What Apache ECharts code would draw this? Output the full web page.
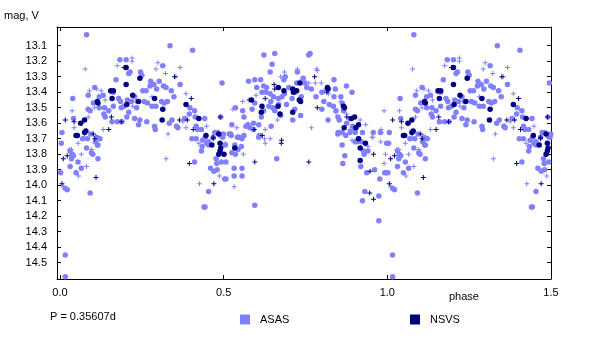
<!DOCTYPE html>
<html>
<head>
<meta charset="utf-8">
<script src="https://cdn.jsdelivr.net/npm/echarts@6/dist/echarts.min.js"></script>
<style>
html, body { margin: 0; padding: 0; background: #ffffff; }
#chart { width: 600px; height: 337px; }
</style>
</head>
<body>
<div id="chart"></div>
<script>
// Light curve, phase-folded: [phase, V magnitude]
const periodLabel = 'P = 0.35607d';
const xTicks = [0, 0.5, 1.0, 1.5];
const yTicks = [13.1, 13.2, 13.3, 13.4, 13.5, 13.6, 13.7, 13.8, 13.9, 14.0, 14.1, 14.2, 14.3, 14.4, 14.5];

// ASAS, good-quality measurements
const asasDots = [
  [0.081,13.03],[0.336,13.10],[0.405,13.13],[0.183,13.19],[0.202,13.19],[0.214,13.27],[0.21,13.28],[0.246,13.27],
  [0.25,13.29],[0.171,13.32],[0.314,13.23],[0.277,13.33],[0.287,13.35],[0.303,13.33],[0.316,13.36],[0.324,13.37],
  [0.295,13.38],[0.367,13.35],[0.34,13.39],[0.348,13.43],[0.106,13.37],[0.086,13.42],[0.163,13.40],[0.179,13.44],
  [0.185,13.46],[0.206,13.45],[0.218,13.46],[0.196,13.49],[0.187,13.50],[0.228,13.43],[0.236,13.46],[0.234,13.50],
  [0.253,13.39],[0.263,13.39],[0.275,13.36],[0.257,13.46],[0.267,13.47],[0.281,13.49],[0.293,13.49],[0.31,13.46],
  [0.318,13.47],[0.328,13.46],[0.039,13.44],[0.086,13.51],[0.092,13.52],[0.12,13.50],[0.136,13.50],[0.134,13.54],
  [0.138,13.56],[0.149,13.52],[0.163,13.49],[0.159,13.59],[0.175,13.59],[0.189,13.59],[0.204,13.56],[0.21,13.53],
  [0.228,13.57],[0.006,13.66],[0.069,13.70],[0.084,13.70],[0.094,13.67],[0.108,13.72],[0.114,13.74],[0.122,13.70],
  [0.004,13.73],[0.081,13.76],[0.24,13.61],[0.244,13.58],[0.265,13.59],[0.289,13.62],[0.291,13.64],[0.334,13.60],
  [0.342,13.58],[0.356,13.62],[0.36,13.63],[0.381,13.57],[0.395,13.54],[0.397,13.50],[0.411,13.52],[0.413,13.56],
  [0.416,13.62],[0.403,13.70],[0.416,13.70],[0.42,13.64],[0.432,13.64],[0.442,13.57],[0.436,13.71],[0.454,13.72],
  [0.473,13.66],[0.481,13.66],[0.491,13.68],[0.497,13.69],[0.505,13.74],[0.517,13.67],[0.523,13.68],[0.525,13.61],
  [0.542,13.69],[0.548,13.69],[0.556,13.70],[0.558,13.52],[0.562,13.56],[0.568,13.62],[0.574,13.61],[0.536,13.50],
  [0.495,13.34],[0.576,13.33],[0.491,13.56],[0.132,13.42],[0.102,13.47],[0.12,13.43],[0.041,13.57],
  [0.623,13.16],[0.656,13.15],[0.76,13.16],[0.764,13.15],[0.648,13.22],[0.642,13.27],[0.595,13.32],[0.613,13.32],
  [0.601,13.37],[0.622,13.36],[0.631,13.37],[0.617,13.40],[0.629,13.40],[0.642,13.41],[0.652,13.43],[0.644,13.46],
  [0.638,13.49],[0.65,13.50],[0.656,13.52],[0.622,13.52],[0.595,13.47],[0.587,13.51],[0.591,13.60],[0.58,13.63],
  [0.609,13.68],[0.645,13.62],[0.667,13.44],[0.678,13.43],[0.686,13.41],[0.688,13.30],[0.684,13.32],[0.725,13.27],
  [0.743,13.31],[0.748,13.34],[0.723,13.34],[0.699,13.37],[0.718,13.40],[0.709,13.44],[0.737,13.43],[0.692,13.48],
  [0.717,13.51],[0.735,13.55],[0.711,13.58],[0.674,13.55],[0.754,13.37],[0.768,13.38],[0.782,13.43],[0.80,13.40],
  [0.817,13.38],[0.837,13.32],[0.806,13.46],[0.80,13.51],[0.823,13.48],[0.837,13.43],[0.841,13.38],[0.875,13.36],
  [0.892,13.40],[0.819,13.58],[0.835,13.49],[0.843,13.52],[0.858,13.43],[0.862,13.47],[0.866,13.52],[0.849,13.56],
  [0.853,13.58],[0.862,13.66],[0.849,13.67],[0.873,13.68],[0.876,13.60],[0.886,13.57],[0.894,13.62],[0.90,13.64],
  [0.924,13.66],[0.912,13.70],[0.957,13.66],[0.979,13.66],[0.998,13.73],[0.902,13.72],[0.862,13.74],[0.591,13.64],
  [0.607,13.61],[0.615,13.56],[0.668,13.48],
  [0.031,13.78],[0.037,13.80],[0.041,13.81],[0.035,13.83],[0.096,13.79],[0.10,13.80],[0.116,13.74],[0.116,13.83],
  [0.031,13.88],[0.065,13.89],[0.049,13.92],[0.002,13.92],[0.055,13.85],[0.016,14.02],[0.022,14.03],[0.092,14.05],
  [0.016,14.45],[0.016,14.59],[0.112,13.69],
  [0.434,13.75],[0.448,13.73],[0.454,13.74],[0.444,13.69],[0.411,13.85],[0.432,13.78],[0.46,13.89],[0.479,13.86],
  [0.454,14.04],[0.44,14.14],[0.443,14.14],[0.47,13.91],[0.48,13.90],[0.493,13.85],[0.507,13.85],[0.507,13.96],
  [0.532,13.89],[0.556,13.89],[0.556,13.94],[0.532,13.94],[0.534,13.74],[0.544,13.77],[0.525,13.79],[0.536,13.80],
  [0.521,13.67],[0.544,13.69],[0.554,13.75],[0.562,13.68],[0.503,13.96],[0.477,13.83],[0.499,13.67],[0.468,13.69],
  [0.607,13.69],[0.662,13.83],[0.595,14.13],[0.85,13.66],[0.87,13.81],[0.864,13.86],[0.886,13.66],[0.902,13.66],
  [0.908,13.72],[0.92,13.72],[0.927,13.78],[0.929,13.80],[0.919,13.88],[0.937,13.92],[0.961,13.90],[0.977,13.96],
  [0.992,13.92],[0.998,13.92],[0.931,14.04],[0.924,14.10],[0.974,14.07],[0.974,14.23],[0.941,13.78]
];

// ASAS, lower-quality measurements
const asasCrosses = [
  [0.077,13.25],[0.175,13.23],[0.22,13.18],[0.22,13.20],[0.299,13.21],[0.293,13.25],[0.322,13.28],[0.367,13.24],
  [0.354,13.30],[0.385,13.41],[0.09,13.39],[0.112,13.38],[0.126,13.39],[0.037,13.52],[0.106,13.50],[0.222,13.49],
  [0.043,13.63],[0.086,13.56],[0.132,13.64],[0.33,13.67],[0.375,13.59],[0.385,13.63],[0.448,13.62],[0.528,13.51],
  [0.558,13.46],[0.54,13.63],[0.035,13.77],[0.055,13.73],[0.138,13.45],[0.153,13.40],[0.281,13.43],
  [0.725,13.25],[0.784,13.25],[0.786,13.26],[0.674,13.30],[0.686,13.27],[0.733,13.33],[0.76,13.34],[0.78,13.34],
  [0.798,13.34],[0.807,13.39],[0.821,13.41],[0.858,13.46],[0.843,13.53],[0.876,13.54],[0.886,13.64],[0.917,13.58],
  [0.934,13.61],[0.956,13.69],[0.982,13.66],[0.99,13.52],[0.768,13.63],[0.627,13.64],[0.642,13.70],[0.664,13.58],
  [0.599,13.42],
  [0.029,13.77],[0.065,13.80],[0.081,13.88],[0.057,13.94],[0.01,14.01],[0.096,13.77],[0.075,13.69],[0.324,13.83],
  [0.424,13.73],[0.426,13.99],[0.505,13.73],[0.487,13.94],[0.532,14.01],[0.56,13.80],
  [0.872,13.68],[0.892,13.71],[0.953,13.69],[0.98,13.72],[0.941,13.75],[0.99,13.86],[0.994,13.80],[0.625,13.70],
  [0.627,13.73],[0.981,13.64]
];

// NSVS, good-quality measurements
const nsvsDots = [
  [0.202,13.24],[0.244,13.31],[0.202,13.35],[0.155,13.39],[0.163,13.39],[0.114,13.46],[0.116,13.47],[0.159,13.44],
  [0.204,13.48],[0.222,13.42],[0.24,13.46],[0.289,13.44],[0.314,13.51],[0.312,13.58],[0.385,13.48],[0.424,13.57],
  [0.446,13.68],[0.464,13.74],[0.485,13.67],[0.489,13.73],[0.491,13.76],[0.063,13.60],[0.075,13.58],[0.049,13.68],
  [0.053,13.68],[0.075,13.66],[0.079,13.65],[0.534,13.76],
  [0.585,13.45],[0.617,13.49],[0.615,13.53],[0.667,13.37],[0.684,13.39],[0.666,13.49],[0.672,13.54],[0.711,13.38],
  [0.713,13.40],[0.723,13.39],[0.733,13.34],[0.731,13.45],[0.735,13.46],[0.711,13.53],[0.817,13.37],[0.819,13.38],
  [0.866,13.49],[0.869,13.50],[0.89,13.57],[0.90,13.56],[0.912,13.61],[0.904,13.63],[0.912,13.70],[0.933,13.73],
  [0.868,13.63],[0.917,13.76],
  [0.489,13.78],[0.485,13.80],[0.501,13.80],[0.917,13.84]
];

// NSVS, lower-quality measurements
const nsvsCrosses = [
  [0.016,13.58],[0.043,13.59],[0.102,13.67],[0.106,13.70],[0.149,13.64],[0.157,13.56],[0.187,13.59],[0.196,13.24],
  [0.35,13.30],[0.401,13.44],[0.365,13.58],[0.389,13.58],[0.407,13.64],[0.468,13.70],[0.489,13.56],[0.578,13.45],
  [0.654,13.35],[0.656,13.38],[0.627,13.44],[0.778,13.30],[0.786,13.50],[0.815,13.40],[0.876,13.56],[0.618,13.68],
  [0.593,13.64],[0.676,13.73],
  [0.01,13.83],[0.022,13.81],[0.006,13.99],[0.11,13.95],[0.395,13.86],[0.47,13.99],[0.468,13.69],
  [0.595,13.85],[0.677,13.71],[0.76,13.85],[0.958,13.80],[0.946,14.05],[0.958,14.09],[0.947,13.91]
];

// The diagram spans 1.5 cycles: phases below 0.5 are shown again one cycle later.
function extendCycle(points) {
  const out = points.slice();
  points.forEach(function (p) {
    if (p[0] < 0.5) out.push([p[0] + 1, p[1]]);
  });
  return out;
}

const FONT = "'Liberation Sans', Arial, sans-serif";
const ASAS_COLOR = '#8080ff';
const NSVS_COLOR = '#000080';
const CROSS = 'path://M2,0H3V5H2Z M0,2H5V3H0Z';

const chart = echarts.init(document.getElementById('chart'), null, { renderer: 'canvas' });

function frameX(pos, showLabels) {
  return {
    type: 'value', position: pos, min: -0.0092, max: 1.5,
    axisLine: { show: true, onZero: false, lineStyle: { color: '#000', width: 1 } },
    axisTick: { show: true, inside: true, length: 4, customValues: xTicks, lineStyle: { color: '#000' } },
    axisLabel: {
      show: showLabels, customValues: xTicks, margin: 8, color: '#000',
      fontFamily: FONT, fontSize: 11,
      formatter: function (v) { return v.toFixed(1); }
    },
    splitLine: { show: false }
  };
}
function frameY(pos, showLabels) {
  return {
    type: 'value', position: pos, inverse: true, min: 12.9794, max: 14.6052,
    axisLine: { show: true, onZero: false, lineStyle: { color: '#000', width: 1 } },
    axisTick: { show: true, inside: true, length: 4, customValues: yTicks, lineStyle: { color: '#000' } },
    axisLabel: {
      show: showLabels, customValues: yTicks, margin: 10, color: '#000',
      fontFamily: FONT, fontSize: 11,
      formatter: function (v) { return v.toFixed(1); }
    },
    splitLine: { show: false }
  };
}

function legendFor(name, left) {
  return {
    data: [name], left: left, top: 314, padding: 0,
    icon: 'rect', itemWidth: 10, itemHeight: 10, selectedMode: false,
    itemStyle: { opacity: 1 },
    textStyle: { color: '#000', fontFamily: FONT, fontSize: 11, padding: [0, 0, 0, 5] }
  };
}

chart.setOption({
  animation: false,
  backgroundColor: '#ffffff',
  grid: { left: 57, top: 27, width: 494, height: 252 },
  xAxis: [frameX('bottom', true), frameX('top', false)],
  yAxis: [frameY('left', true), frameY('right', false)],
  legend: [legendFor('ASAS', 240), legendFor('NSVS', 410)],
  graphic: [
    { type: 'text', left: 4, top: 10, style: { text: 'mag, V', fill: '#000', font: '11px ' + FONT } },
    { type: 'text', left: 449, top: 291, style: { text: 'phase', fill: '#000', font: '11px ' + FONT } },
    { type: 'text', left: 50, top: 311, style: { text: periodLabel, fill: '#000', font: '11px ' + FONT } }
  ],
  series: [
    { name: 'ASAS', type: 'scatter', data: extendCycle(asasDots), symbol: 'circle', symbolSize: 5.5,
      itemStyle: { color: ASAS_COLOR, opacity: 1 }, silent: true, z: 2 },
    { name: 'ASAS', type: 'scatter', data: extendCycle(asasCrosses), symbol: CROSS, symbolSize: 5,
      itemStyle: { color: ASAS_COLOR, opacity: 1 }, silent: true, z: 2 },
    { name: 'NSVS', type: 'scatter', data: extendCycle(nsvsDots), symbol: 'circle', symbolSize: 5.5,
      itemStyle: { color: NSVS_COLOR, opacity: 1 }, silent: true, z: 3 },
    { name: 'NSVS', type: 'scatter', data: extendCycle(nsvsCrosses), symbol: CROSS, symbolSize: 5,
      itemStyle: { color: NSVS_COLOR, opacity: 1 }, silent: true, z: 3 }
  ]
});
</script>
</body>
</html>
